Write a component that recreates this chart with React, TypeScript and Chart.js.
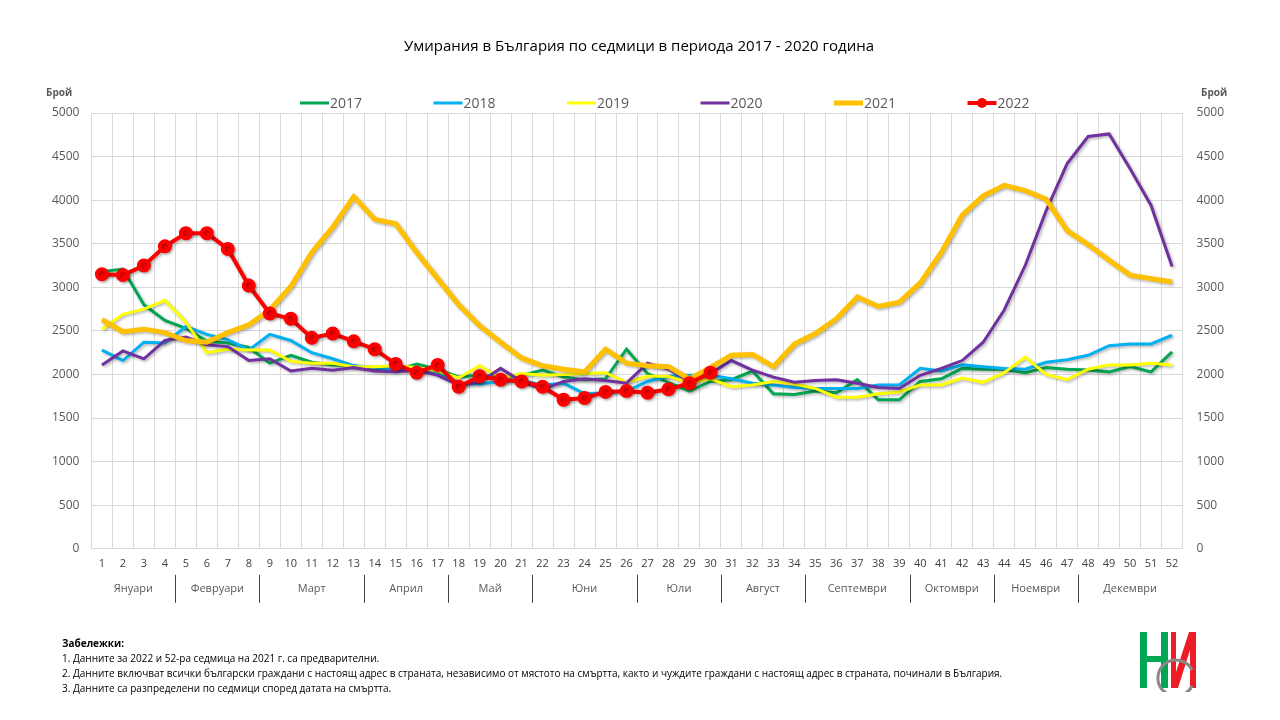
import React, { useEffect, useRef } from "react";
import { Chart, registerables } from "chart.js";
Chart.register(...registerables);

const weeks = Array.from({ length: 52 }, (_, i) => String(i + 1));
const months = ["Януари", "Февруари", "Март", "Април", "Май", "Юни", "Юли", "Август", "Септември", "Октомври", "Ноември", "Декември"];
const monthEnds = [4, 8, 13, 17, 21, 26, 30, 34, 39, 43, 47, 52];

const y2017 = [3180,3210,2800,2620,2530,2380,2360,2310,2130,2220,2140,2110,2100,2060,2050,2120,2060,1970,1990,1970,1990,2050,1970,1940,1950,2290,2010,1910,1810,1920,1940,2040,1780,1770,1810,1790,1940,1710,1710,1920,1950,2070,2060,2060,2020,2080,2060,2050,2030,2090,2030,2260];
const y2018 = [2280,2160,2370,2360,2550,2460,2400,2280,2460,2390,2250,2180,2100,2080,2060,2050,2030,1900,1890,1920,1930,1880,1900,1780,1790,1810,1920,1980,1990,1990,1950,1900,1880,1850,1840,1840,1840,1880,1880,2070,2040,2110,2090,2070,2060,2140,2170,2220,2330,2350,2350,2450];
const y2019 = [2520,2690,2750,2850,2600,2250,2290,2280,2280,2150,2130,2130,2090,2090,2100,2080,2040,1960,2100,1960,2010,1990,2000,2010,2020,1910,1980,1980,1900,1950,1860,1880,1920,1890,1840,1740,1740,1780,1800,1880,1880,1960,1910,2020,2200,2000,1940,2060,2110,2110,2130,2110];
const y2020 = [2110,2270,2180,2390,2430,2340,2320,2160,2180,2040,2070,2050,2080,2040,2030,2050,1990,1880,1910,2070,1920,1830,1920,1950,1930,1900,2130,2060,1930,2010,2160,2050,1970,1910,1930,1940,1900,1850,1840,1990,2070,2160,2370,2740,3250,3880,4420,4730,4760,4360,3940,3240];
const y2021 = [2630,2490,2520,2480,2390,2370,2480,2570,2740,3010,3400,3690,4040,3780,3730,3400,3100,2800,2560,2370,2190,2100,2060,2030,2290,2130,2100,2090,1950,2080,2220,2230,2090,2350,2470,2640,2890,2780,2830,3050,3400,3830,4050,4170,4110,4010,3650,3490,3310,3140,3100,3060];
const y2022 = [3150,3140,3250,3470,3620,3620,3440,3020,2700,2640,2420,2470,2380,2290,2120,2020,2110,1860,1980,1940,1920,1860,1710,1730,1800,1810,1790,1830,1900,2020];

const FONT = "'Open Sans', 'DejaVu Sans', sans-serif";

const extras = {
  id: "extras",
  beforeDatasetDraw(chart: any) {
    const c = chart.ctx;
    c.save();
    c.shadowColor = "rgba(0,0,0,0.3)";
    c.shadowBlur = 3;
    c.shadowOffsetX = 1.5;
    c.shadowOffsetY = 1.5;
  },
  afterDatasetDraw(chart: any) {
    chart.ctx.restore();
  },
  afterDraw(chart: any) {
    const c = chart.ctx;
    const x = chart.scales.x;
    const ca = chart.chartArea;
    c.save();
    c.font = `bold 10px ${FONT}`;
    c.fillStyle = "#595959";
    c.textAlign = "left";
    c.fillText("Брой", 46, 96);
    c.fillText("Брой", 1201, 96);
    c.font = `14px ${FONT}`;
    c.textBaseline = "middle";
    chart.data.datasets.forEach((d: any, i: number) => {
      const lx = 300 + i * 133.5;
      const ly = 103;
      c.strokeStyle = d.borderColor;
      c.lineWidth = d.borderWidth;
      c.beginPath();
      c.moveTo(lx, ly);
      c.lineTo(lx + 29, ly);
      c.stroke();
      if (d.pointRadius) {
        c.fillStyle = d.borderColor;
        c.beginPath();
        c.arc(lx + 14.5, ly, 5, 0, Math.PI * 2);
        c.fill();
      }
      c.fillStyle = "#595959";
      c.fillText(d.label, lx + 30, ly + 1);
    });
    c.font = `11px ${FONT}`;
    c.textAlign = "center";
    const half = (x.getPixelForValue(1) - x.getPixelForValue(0)) / 2;
    let start = 0;
    monthEnds.forEach((e, i) => {
      const l = x.getPixelForValue(start) - half;
      const r = x.getPixelForValue(e - 1) + half;
      c.fillStyle = "#595959";
      c.fillText(months[i], (l + r) / 2, ca.bottom + 40);
      if (i < monthEnds.length - 1) {
        c.strokeStyle = "#404040";
        c.lineWidth = 1;
        c.beginPath();
        c.moveTo(Math.round(r) + 0.5, ca.bottom + 26);
        c.lineTo(Math.round(r) + 0.5, ca.bottom + 54);
        c.stroke();
      }
      start = e;
    });
    c.restore();
  },
};

export default function App() {
  const ref = useRef<HTMLCanvasElement>(null);
  useEffect(() => {
    const mk = (label: string, data: number[], color: string, w: number, order: number) => ({
      label, data, borderColor: color, backgroundColor: color, borderWidth: w,
      pointRadius: 0, tension: 0, order, yAxisID: "y",
    });
    const tickFont = { family: FONT, size: 12 };
    const chart = new Chart(ref.current!, {
      type: "line",
      data: {
        labels: weeks,
        datasets: [
          mk("2017", y2017, "#00a651", 3, 5),
          mk("2018", y2018, "#00b0f0", 3, 4),
          mk("2019", y2019, "#ffff00", 3, 3),
          mk("2020", y2020, "#7030a0", 3, 2),
          mk("2021", y2021, "#ffc000", 5, 1),
          { ...mk("2022", y2022, "#ff0000", 4, 0), pointRadius: 5, pointBackgroundColor: "#ff0000", pointBorderColor: "#ff0000" },
        ],
      },
      options: {
        animation: false,
        responsive: false,
        layout: { padding: { left: 40, right: 42, top: 14, bottom: 62 } },
        plugins: {
          tooltip: { enabled: false },
          legend: { display: false },
          title: {
            display: true, text: "Умирания в България по седмици в периода 2017 - 2020 година",
            color: "#000", font: { family: FONT, size: 15, weight: "normal" }, padding: { top: 24, bottom: 57 },
          },
        },
        scales: {
          x: {
            offset: true,
            grid: { color: "#d9d9d9", offset: true, drawTicks: false },
            border: { display: false },
            ticks: { color: "#404040", font: { family: FONT, size: 11 }, maxRotation: 0, autoSkip: false, padding: 8 },
          },
          y: {
            min: 0, max: 5000, position: "left",
            grid: { color: "#d9d9d9", drawTicks: false },
            border: { display: false },
            ticks: { stepSize: 500, color: "#595959", font: tickFont, padding: 12, callback: (v: any) => String(v) },
          },
          y2: {
            min: 0, max: 5000, position: "right",
            grid: { display: false, drawTicks: false },
            border: { display: false },
            ticks: { stepSize: 500, color: "#595959", font: tickFont, padding: 14, callback: (v: any) => String(v) },
          },
        },
      } as any,
      plugins: [extras],
    });
    return () => chart.destroy();
  }, []);
  return (
    <div style={{ position: "fixed", left: 0, top: 0, width: 1280, height: 720, background: "#fff", fontFamily: FONT }}>
      <canvas ref={ref} width={1280} height={640} style={{ width: 1280, height: 640, position: "absolute", left: 0, top: 0 }} />
      <div style={{ position: "absolute", left: 62, top: 636, fontSize: 10, lineHeight: "15px", color: "#000" }}>
        <div style={{ fontWeight: "bold" }}>Забележки:</div>
        <div>1. Данните за 2022 и 52-ра седмица на 2021 г. са предварителни.</div>
        <div>2. Данните включват всички български граждани с настоящ адрес в страната, независимо от мястото на смъртта, както и чуждите граждани с настоящ адрес в страната, починали в България.</div>
        <div>3. Данните са разпределени по седмици според датата на смъртта.</div>
      </div>
      <svg style={{ position: "absolute", left: 1138, top: 630 }} width={60} height={62} viewBox="0 0 60 62">
        <rect x={2} y={2} width={7} height={56} fill="#00a651" />
        <rect x={9} y={26} width={14} height={6} fill="#00a651" />
        <rect x={23} y={2} width={7} height={56} fill="#00a651" />
        <polygon points="33,58 40,58 52,20 52,58 58,58 58,2 51,2 38,42 38,2 33,2" fill="#ee1c25" />
        <path d="M 54 40 A 18 18 0 1 0 54 56" stroke="#888" strokeWidth={3} fill="none" />
      </svg>
    </div>
  );
}
